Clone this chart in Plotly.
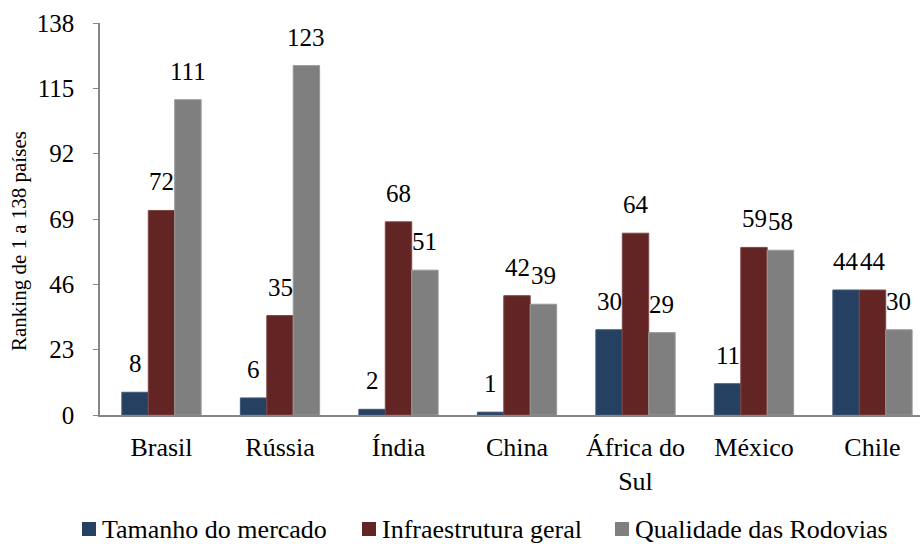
import plotly.graph_objects as go

paises = ["Brasil", "Rússia", "Índia", "China", "África do<br>Sul", "México", "Chile"]
tamanho_mercado = [8, 6, 2, 1, 30, 11, 44]
infraestrutura_geral = [72, 35, 68, 42, 64, 59, 44]
qualidade_rodovias = [111, 123, 51, 39, 29, 58, 30]
y_ticks = [0, 23, 46, 69, 92, 115, 138]

serie_nomes = ["Tamanho do mercado", "Infraestrutura geral", "Qualidade das Rodovias"]
serie_valores = [tamanho_mercado, infraestrutura_geral, qualidade_rodovias]
cores = ["#254061", "#632523", "#7f7f7f"]
bordas = ["#3d5676", "#7d4845", "#999999"]

FONTE = "Liberation Serif"
LARGURA_BARRA = 0.223
posicoes = list(range(len(paises)))

# área de plotagem em pixels (para posicionar legenda e título)
ESQ, LARG, TOPO, BASE = 100, 820, 23, 415
ALT = BASE - TOPO


def px_x(p):
    return (p - ESQ) / LARG


def px_y(p):
    return (BASE - p) / ALT


fig = go.Figure()
anotacoes = []
for k, (nome, valores, cor, borda) in enumerate(zip(serie_nomes, serie_valores, cores, bordas)):
    desloc = (k - 1) * LARGURA_BARRA
    xs = [p + desloc for p in posicoes]
    fig.add_trace(go.Bar(
        x=xs, y=valores, name=nome, width=LARGURA_BARRA,
        marker=dict(color=cor, line=dict(color=borda, width=1)),
        showlegend=False,
    ))
    # rótulos de valor acima de cada barra
    for x, v in zip(xs, valores):
        anotacoes.append(dict(
            x=x, y=v, xref="x", yref="y", text=str(v), showarrow=False,
            yanchor="bottom", yshift=13,
            font=dict(family=FONTE, size=25, color="#000000"),
        ))

# legenda na parte inferior: quadrado colorido + texto
legenda_px = [82, 362, 615]
formas = []
for nome, cor, x0 in zip(serie_nomes, cores, legenda_px):
    formas.append(dict(
        type="rect", xref="paper", yref="paper",
        x0=px_x(x0), x1=px_x(x0 + 14),
        y0=px_y(536), y1=px_y(522),
        fillcolor=cor, line=dict(width=0),
    ))
    anotacoes.append(dict(
        x=px_x(x0 + 18), y=px_y(529), xref="paper", yref="paper",
        xanchor="left", yanchor="middle", text=nome, showarrow=False,
        font=dict(family=FONTE, size=26, color="#000000"),
    ))

# título do eixo vertical
anotacoes.append(dict(
    x=px_x(19), y=px_y(241), xref="paper", yref="paper",
    text="Ranking de 1 a 138 países", textangle=-90, showarrow=False,
    xanchor="center", yanchor="middle",
    font=dict(family=FONTE, size=21, color="#000000"),
))

r0 = -0.519
fig.update_layout(
    width=920, height=544,
    margin=dict(l=ESQ, r=0, t=TOPO, b=544 - BASE),
    paper_bgcolor="white", plot_bgcolor="white",
    barmode="overlay",
    font=dict(family=FONTE, color="#000000"),
    showlegend=False,
    annotations=anotacoes,
    shapes=formas,
    xaxis=dict(
        range=[r0, r0 + LARG / 118.5],
        tickvals=posicoes, ticktext=paises,
        showline=True, linecolor="#868686", linewidth=1.5,
        ticks="", showgrid=False, zeroline=False,
        ticklabelstandoff=8,
        tickfont=dict(family=FONTE, size=26, color="#000000"),
    ),
    yaxis=dict(
        range=[0, 138], tickvals=y_ticks, ticktext=[str(t) for t in y_ticks],
        showline=True, linecolor="#868686", linewidth=1.5,
        ticks="outside", ticklen=5, tickcolor="#868686",
        showgrid=False, zeroline=False,
        ticklabelstandoff=14,
        tickfont=dict(family=FONTE, size=25, color="#000000"),
    ),
)

fig.write_html("out.html")
